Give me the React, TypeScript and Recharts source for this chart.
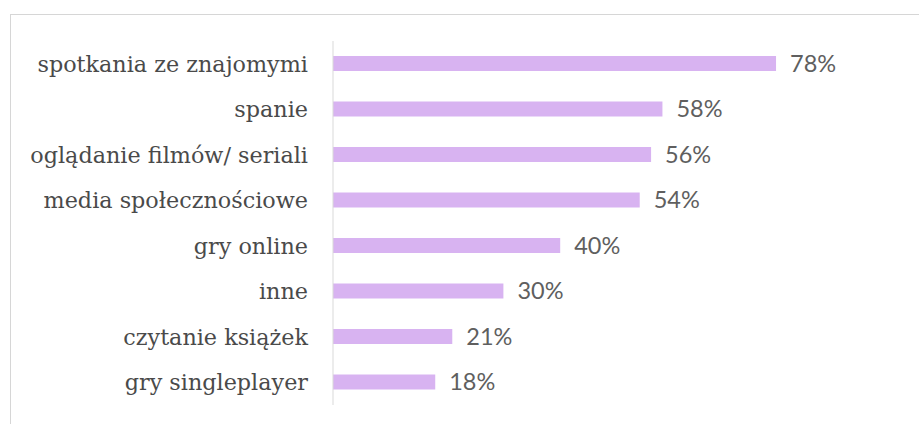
import React from 'react';
import { BarChart, Bar, XAxis, YAxis, LabelList } from 'recharts';

const categories = [
  'spotkania ze znajomymi',
  'spanie',
  'oglądanie filmów/ seriali',
  'media społecznościowe',
  'gry online',
  'inne',
  'czytanie książek',
  'gry singleplayer',
];

const shares = [78, 58, 56, 54, 40, 30, 21, 18];

const data = categories.map((name, i) => ({ name, value: shares[i] }));

const BAR_COLOR = '#d8b3f1';

const App: React.FC = () => {
  return (
    <div style={{ position: 'absolute', left: 0, top: 0, width: 919, height: 424, background: '#fff', overflow: 'hidden' }}>
      <div
        style={{
          position: 'absolute',
          left: 10,
          top: 14,
          width: 930,
          height: 430,
          border: '1.5px solid #d6d6d6',
          boxSizing: 'border-box',
        }}
      />
      <div style={{ position: 'absolute', left: 0, top: 0 }}>
        <BarChart
          width={919}
          height={424}
          data={data}
          layout="vertical"
          margin={{ top: 41, right: 18, bottom: 19, left: 0 }}
        >
          <XAxis type="number" domain={[0, 100]} hide />
          <YAxis
            type="category"
            dataKey="name"
            width={333}
            tickLine={false}
            tickSize={0}
            tickMargin={25}
            axisLine={{ stroke: '#d9d9d9', strokeWidth: 1 }}
            tick={{ fill: '#4a4a4a', fontSize: 22.3, fontFamily: 'DejaVu Serif' }}
            interval={0}
          />
          <Bar dataKey="value" fill={BAR_COLOR} barSize={15} isAnimationActive={false}>
            <LabelList
              dataKey="value"
              position="right"
              offset={14}
              formatter={(v: number) => `${v}%`}
              style={{ fill: '#5f5f5f', fontSize: 23.5, fontFamily: 'Lato' }}
            />
          </Bar>
        </BarChart>
      </div>
    </div>
  );
};

export default App;
